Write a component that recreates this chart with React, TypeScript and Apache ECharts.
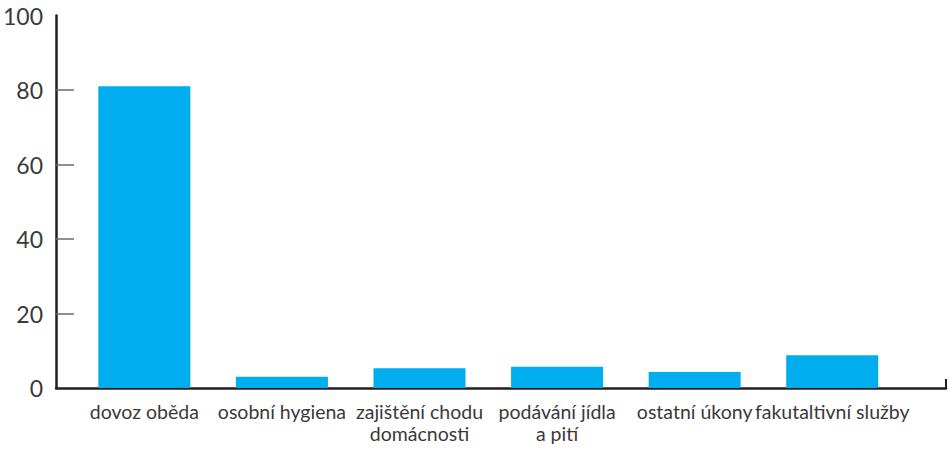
import React, { useEffect, useRef } from "react";
import * as echarts from "echarts";

const categories = [
  "dovoz oběda",
  "osobní hygiena",
  "zajištění chodu\ndomácnosti",
  "podávání jídla\na pití",
  "ostatní úkony",
  "fakutaltivní služby",
];
const values = [81, 3, 5.3, 5.7, 4.3, 8.8];
const yTicks = [20, 40, 60, 80];

export default function App() {
  const ref = useRef<HTMLDivElement>(null);
  useEffect(() => {
    if (!ref.current) return;
    const chart = echarts.init(ref.current, null, { renderer: "svg" });
    const positions = categories.map((_, i) => i);
    const xMin = -0.642;
    const xMax = 5.827;
    chart.setOption({
      animation: false,
      backgroundColor: "#ffffff",
      grid: { left: 54, right: 3, top: 15.5, bottom: 61, containLabel: false },
      xAxis: {
        type: "value",
        min: xMin,
        max: xMax,
        splitLine: { show: false },
        axisLine: { show: true, onZero: false, lineStyle: { color: "#231f20", width: 2.5 } },
        axisTick: {
          show: true,
          inside: true,
          length: 9,
          customValues: [xMax],
          lineStyle: { color: "#231f20", width: 2 },
        },
        axisLabel: {
          customValues: positions,
          formatter: (v: number) => categories[Math.round(v)] ?? "",
          color: "#3a3a3a",
          fontFamily: "Lato",
          fontSize: 19.5,
          lineHeight: 22,
          margin: 12,
          hideOverlap: false,
          showMinLabel: true,
          showMaxLabel: true,
        },
      },
      yAxis: {
        type: "value",
        min: 0,
        max: 100,
        interval: 20,
        splitLine: { show: false },
        axisLine: { show: true, onZero: false, lineStyle: { color: "#231f20", width: 2.5 } },
        axisTick: {
          show: true,
          inside: true,
          length: 18,
          customValues: yTicks,
          lineStyle: { color: "#6b6b6b", width: 1.5 },
        },
        axisLabel: {
          color: "#3a3a3a",
          fontFamily: "Lato",
          fontSize: 23,
          margin: 13,
        },
      },
      series: [
        {
          type: "bar",
          barWidth: 92,
          itemStyle: { color: "#00aeef" },
          data: values.map((v, i) => [positions[i], v]),
        },
      ],
    });
    return () => chart.dispose();
  }, []);
  return (
    <div
      ref={ref}
      style={{ position: "fixed", left: 0, top: 0, width: 949, height: 449 }}
    />
  );
}
